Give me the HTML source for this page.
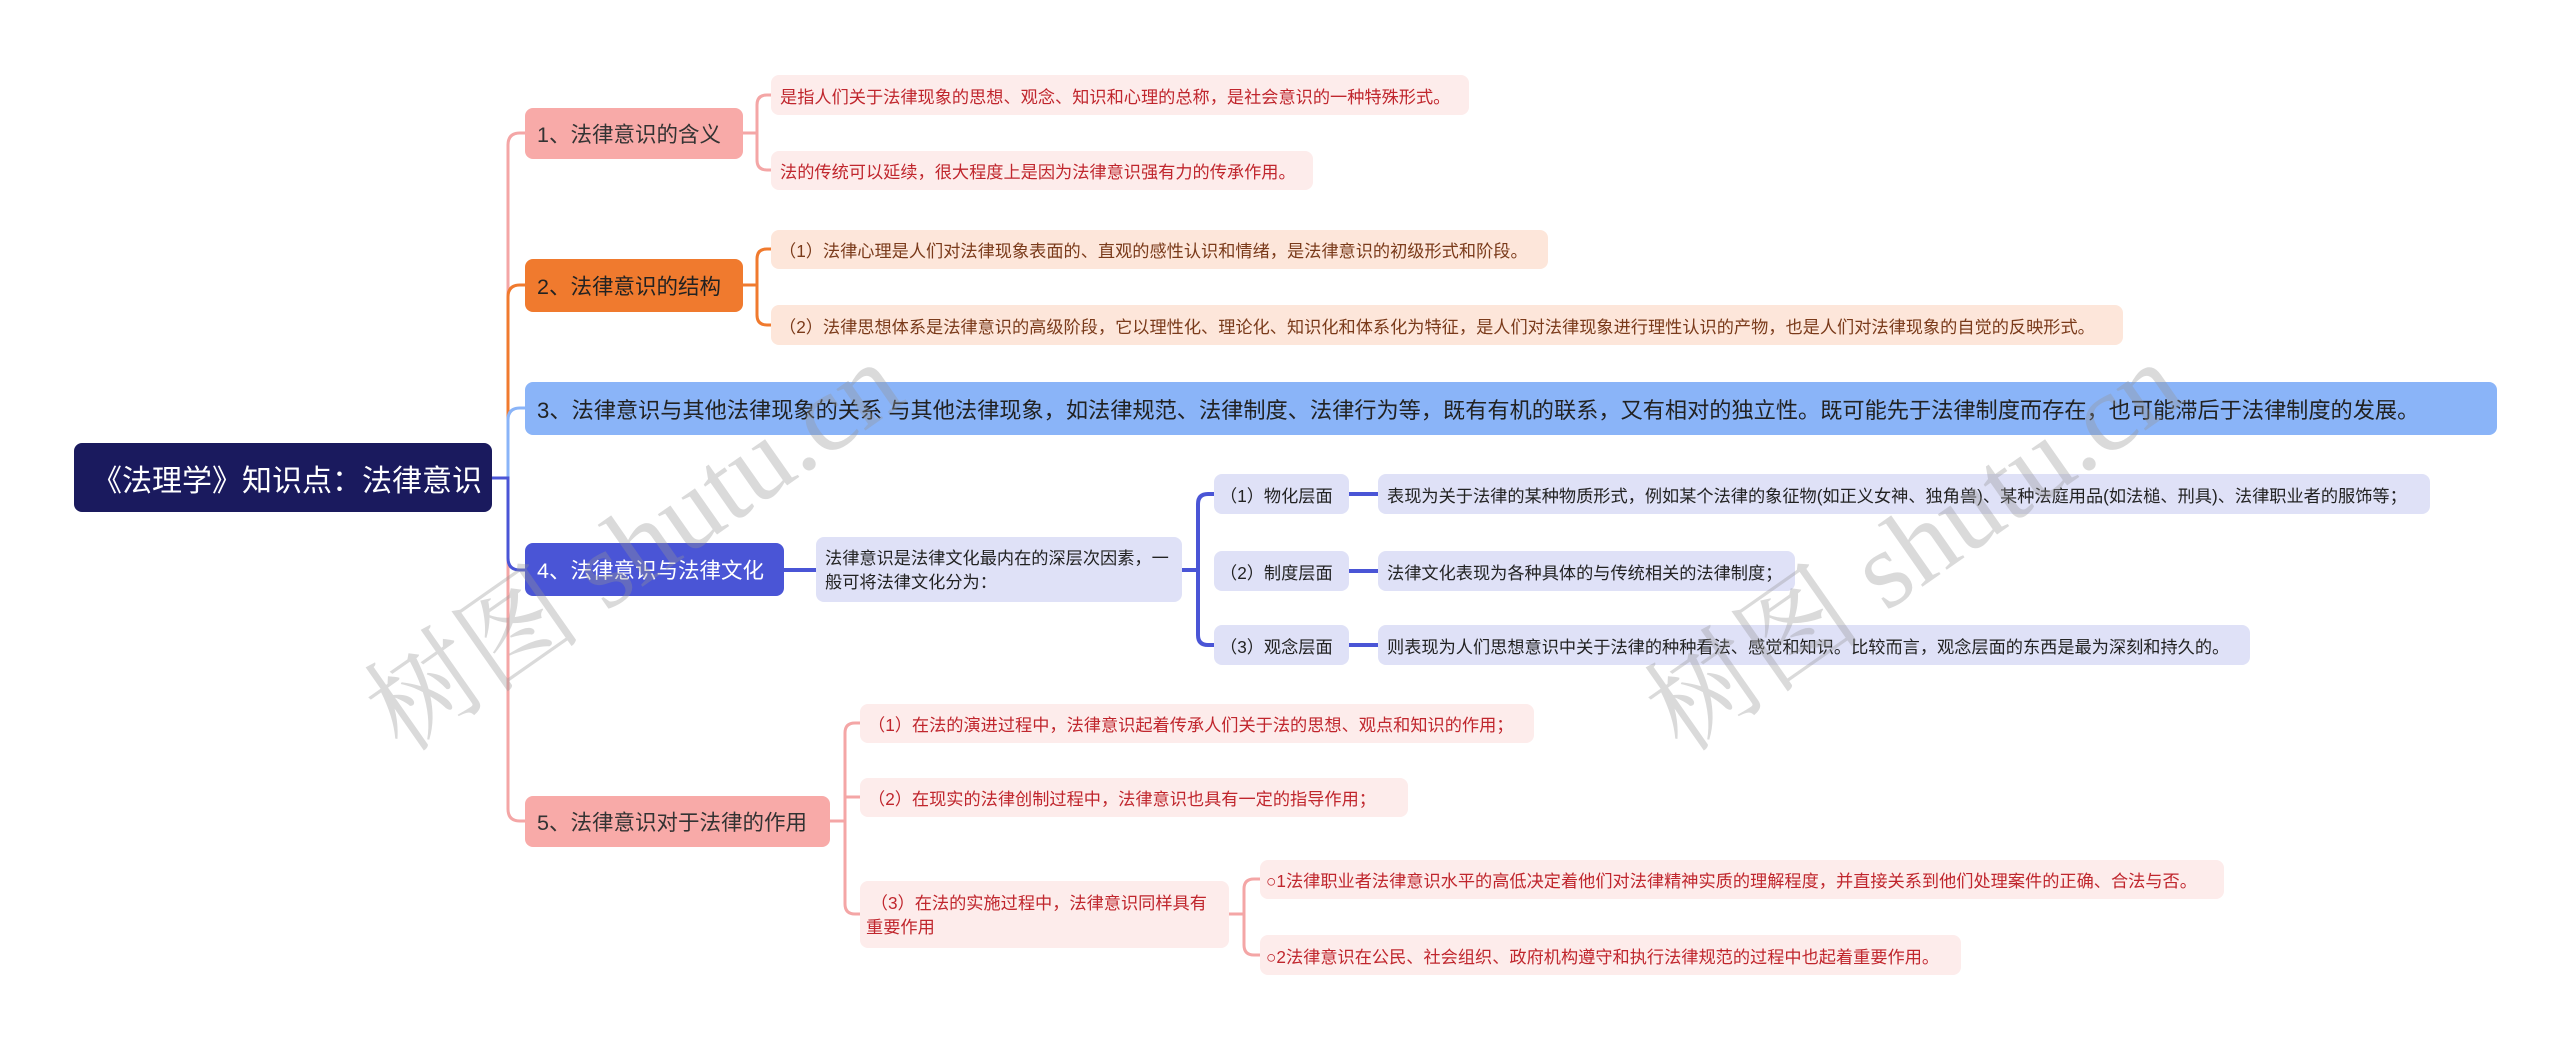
<!DOCTYPE html>
<html><head><meta charset="utf-8"><style>
*{margin:0;padding:0;box-sizing:border-box}
body{width:2560px;height:1045px;background:#fff;position:relative;overflow:hidden;font-family:"Liberation Sans","Noto Sans CJK SC",sans-serif}
.b{position:absolute;border-radius:8px;display:flex;align-items:center;white-space:nowrap;padding-left:12px}
.l{font-size:17.2px}
.p{background:#fdeceb;color:#c0262d}
.o{background:#fde6da;color:#7a3a1a}
.v{background:#dfe1f7;color:#222}
.wm{position:absolute;font-size:110px;color:rgba(150,150,150,0.35);font-family:"Liberation Serif","Noto Serif CJK SC",serif;transform:rotate(-35deg);white-space:nowrap}
</style></head><body>
<svg width="2560" height="1045" style="position:absolute;left:0;top:0" fill="none" stroke-width="3">
<path d="M492 478H508V145Q508 133 520 133H525" stroke="#f4a6a6"/>
<path d="M492 478H508V297Q508 285 520 285H525" stroke="#f07a2e"/>
<path d="M492 478H508V420Q508 408 520 408H525" stroke="#8ab4f8"/>
<path d="M492 478H508V809Q508 821 520 821H525" stroke="#f4a6a6"/>
<path d="M492 478H508V558Q508 570 520 570H525" stroke="#4a55d6"/>
<path d="M743 133H757M771 95H767Q757 95 757 105V160Q757 170 767 170H771" stroke="#f4a6a6"/>
<path d="M743 285H757M771 249H767Q757 249 757 259V315Q757 325 767 325H771" stroke="#f07a2e"/>
<path d="M784 570H816M1182 570H1198M1214 494H1208Q1198 494 1198 504V635Q1198 645 1208 645H1214M1349 494H1378M1349 571H1378M1349 645H1378" stroke="#4a55d6" stroke-width="4"/>
<path d="M830 821H845M860 723H855Q845 723 845 733V904Q845 914 855 914H860M845 797H860M1229 914H1244M1260 879H1254Q1244 879 1244 889V945Q1244 955 1254 955H1260" stroke="#f4a6a6"/>
</svg>
<div class="b" style="left:74px;top:443px;width:418px;height:69px;background:#1a1a5e;color:#fff;font-size:30px;padding-left:18px">《法理学》知识点：法律意识</div>
<div class="b" style="left:525px;top:108px;width:218px;height:51px;background:#f8aaa8;color:#333;font-size:21.5px">1、法律意识的含义</div>
<div class="b" style="left:525px;top:259px;width:218px;height:53px;background:#f07a2e;color:#222;font-size:21.5px">2、法律意识的结构</div>
<div class="b" style="left:525px;top:382px;width:1972px;height:53px;background:#8ab4f8;color:#222;font-size:22.2px">3、法律意识与其他法律现象的关系 与其他法律现象，如法律规范、法律制度、法律行为等，既有有机的联系，又有相对的独立性。既可能先于法律制度而存在，也可能滞后于法律制度的发展。</div>
<div class="b" style="left:525px;top:543px;width:259px;height:53px;background:#4a55d6;color:#fff;font-size:21.5px">4、法律意识与法律文化</div>
<div class="b" style="left:525px;top:796px;width:305px;height:51px;background:#f8aaa8;color:#333;font-size:21.5px">5、法律意识对于法律的作用</div>
<div class="b l p" style="left:771px;top:75px;width:698px;height:40px;padding-left:9px">是指人们关于法律现象的思想、观念、知识和心理的总称，是社会意识的一种特殊形式。</div>
<div class="b l p" style="left:771px;top:151px;width:542px;height:39px;padding-left:9px">法的传统可以延续，很大程度上是因为法律意识强有力的传承作用。</div>
<div class="b l o" style="left:771px;top:230px;width:777px;height:39px;padding-left:8px">（1）法律心理是人们对法律现象表面的、直观的感性认识和情绪，是法律意识的初级形式和阶段。</div>
<div class="b l o" style="left:771px;top:305px;width:1352px;height:40px;padding-left:8px">（2）法律思想体系是法律意识的高级阶段，它以理性化、理论化、知识化和体系化为特征，是人们对法律现象进行理性认识的产物，也是人们对法律现象的自觉的反映形式。</div>
<div class="b l v" style="left:816px;top:537px;width:366px;height:65px;white-space:normal;line-height:24px;padding-right:4px;padding-left:9px">法律意识是法律文化最内在的深层次因素，一般可将法律文化分为：</div>
<div class="b l v" style="left:1214px;top:474px;width:135px;height:40px;padding-left:6px">（1）物化层面</div>
<div class="b l v" style="left:1214px;top:551px;width:135px;height:40px;padding-left:6px">（2）制度层面</div>
<div class="b l v" style="left:1214px;top:625px;width:135px;height:40px;padding-left:6px">（3）观念层面</div>
<div class="b l v" style="left:1378px;top:474px;width:1052px;height:40px;padding-left:9px">表现为关于法律的某种物质形式，例如某个法律的象征物(如正义女神、独角兽)、某种法庭用品(如法槌、刑具)、法律职业者的服饰等；</div>
<div class="b l v" style="left:1378px;top:551px;width:417px;height:40px;padding-left:9px">法律文化表现为各种具体的与传统相关的法律制度；</div>
<div class="b l v" style="left:1378px;top:625px;width:872px;height:40px;padding-left:9px">则表现为人们思想意识中关于法律的种种看法、感觉和知识。比较而言，观念层面的东西是最为深刻和持久的。</div>
<div class="b l p" style="left:860px;top:704px;width:674px;height:39px;padding-left:8px">（1）在法的演进过程中，法律意识起着传承人们关于法的思想、观点和知识的作用；</div>
<div class="b l p" style="left:860px;top:778px;width:548px;height:39px;padding-left:8px">（2）在现实的法律创制过程中，法律意识也具有一定的指导作用；</div>
<div class="b l p" style="left:860px;top:881px;width:369px;height:67px;white-space:normal;line-height:24px;padding-right:22px;padding-left:6px">&nbsp;（3）在法的实施过程中，法律意识同样具有重要作用</div>
<div class="b l p" style="left:1260px;top:860px;width:964px;height:39px;padding-left:6px">○1法律职业者法律意识水平的高低决定着他们对法律精神实质的理解程度，并直接关系到他们处理案件的正确、合法与否。</div>
<div class="b l p" style="left:1260px;top:935px;width:701px;height:40px;padding-left:6px">○2法律意识在公民、社会组织、政府机构遵守和执行法律规范的过程中也起着重要作用。</div>
<div class="wm" style="left:320px;top:460px">树图 shutu.cn</div>
<div class="wm" style="left:1600px;top:460px">树图 shutu.cn</div>
</body></html>
